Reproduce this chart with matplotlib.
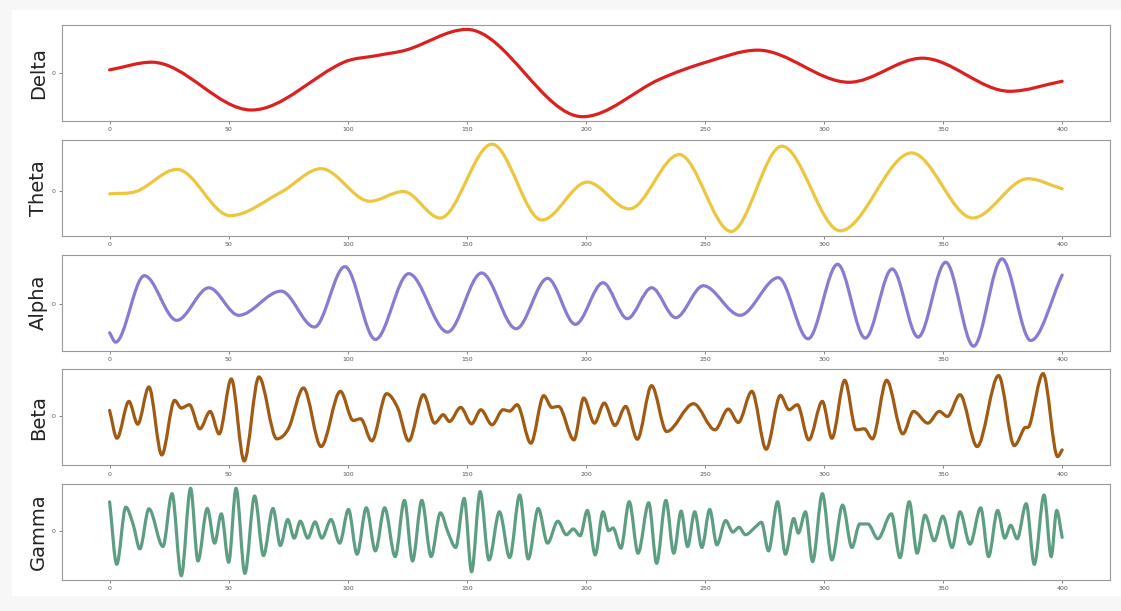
import matplotlib
matplotlib.use("Agg")
import matplotlib.pyplot as plt
import numpy as np
from matplotlib.path import Path
from matplotlib.patches import PathPatch, Rectangle

# turning points (sample index, amplitude) of each band-filtered trace
delta_x = [0, 17.7, 59.6, 98.4, 112.4, 124.8, 150, 198.6,
           231, 250.5, 272.2, 310.5, 341.3, 378, 400]
delta_y = [10, 33, -110, 33, 53, 70, 131, -130,
           -18, 33, 69, -27, 45, -54, -24]

theta_x = [0, 11.5, 28.3, 50.6, 72, 88.8, 109.3, 123.3, 138.8, 160.6, 181.5,
           200.6, 218.2, 239.2, 261, 282.3, 306.8, 336.8, 362.4, 385.6, 400]
theta_y = [-7, 1, 66, -72, -2, 68, -29, 0, -79, 141, -85,
           28, -52, 110, -119, 135, -117, 115, -79, 38, 8]

alpha_x = [0, 2.5, 14.6, 28.2, 41.7, 54.2, 72, 86, 98.8, 111.6, 125.6, 141.9,
           156.2, 170.7, 183.9, 195.6, 207.2, 217.4, 227.6, 237.7, 249.3, 264.7,
           280.8, 293.3, 305.7, 317.3, 328.6, 339.5, 351.1, 362.8, 374.7, 386.8, 400]
alpha_y = [-87, -115, 83, -50, 47, -35, 37, -70, 110, -107, 89, -85,
           91, -75, 75, -62, 62, -45, 47, -42, 53, -35,
           77, -105, 117, -103, 103, -100, 123, -127, 133, -110, 85]

beta_x = [0, 3.1, 8.1, 11.8, 16.5, 21.9, 27.3, 30.1, 33.5, 37.9, 42.2, 46,
          51.1, 56.5, 62.7, 70.2, 75.2, 81.4, 88.8, 96.9, 102.3, 105.4, 110.1,
          116.3, 121, 125.6, 131.8, 136.5, 140.1, 142.7, 147.4, 152, 155.9,
          160.6, 165.2, 168, 171.1, 176.9, 182.3, 185.7, 188.5, 195, 199.1,
          203.6, 207.7, 212.2, 216.7, 221.6, 227.6, 233.9, 245.2, 254.2, 259.8,
          264, 269.7, 275.7, 281.7, 285.3, 288.8, 293.6, 299.3, 303.3, 308.7,
          313.5, 316.9, 320.3, 326.3, 333.1, 337.6, 343.6, 348.4, 351.8, 357.1,
          364.3, 373.3, 379.9, 384.1, 386.4, 392, 398.1, 400]
beta_y = [18, -65, 45, -23, 88, -115, 48, 25, 35, -37, 15, -52,
          112, -133, 118, -67, -35, 85, -90, 75, -12, -7, -73,
          68, 25, -73, 65, -20, 5, -15, 27, -22, 20,
          -25, 20, 16, 35, -80, 62, 27, 30, -70, 55,
          -20, 40, -27, 30, -68, 92, -45, 38, -40, 22,
          -18, 75, -98, 63, 20, 35, -70, 45, -65, 108,
          -40, -37, -67, 108, -52, 15, -20, 15, 0, 65,
          -90, 122, -87, -35, -25, 128, -120, -100]

gamma_x = [0, 3, 6.8, 9.9, 12.7, 16.5, 22.4, 26.2, 30.1, 34, 37.1, 41, 44.1,
           46.9, 50, 53.1, 56.8, 60.9, 64.6, 68.6, 71.7, 74.8, 77.5, 80.1, 83.2,
           86.3, 89.1, 93, 96.6, 100.3, 103.9, 107.8, 111.6, 115.5, 119.9, 123.8,
           127.2, 131.1, 135, 138.9, 142.2, 145.3, 148.9, 152, 155.6, 159.3,
           163.7, 168, 172.2, 175.8, 180, 183.9, 188.2, 191.8, 194.7, 197.6,
           200.6, 203.9, 207.2, 209.6, 211.4, 214.7, 218.2, 221.9, 226.4, 229.7,
           233.6, 236.9, 240, 242.7, 245.7, 248.7, 252, 255, 258.7, 261.7, 264.3,
           267, 271.5, 273.7, 276.7, 280.5, 283.8, 287.3, 289.2, 292.2, 295.2,
           299.3, 303.3, 307.8, 311.7, 315, 318.4, 322.6, 328.3, 331.9, 335.8,
           339.1, 342.4, 346.3, 349.9, 353.8, 357.1, 361.3, 365.8, 369.1, 372.9,
           375.9, 378.4, 381.1, 384.9, 388.3, 392.4, 395.4, 397.7, 400]
gamma_y = [86, -100, 70, 18, -54, 65, -47, 110, -134, 126, -90, 66, -37,
           50, -94, 126, -127, 103, -74, 66, -44, 33, -22, 28, -22,
           26, -22, 33, -37, 63, -70, 68, -60, 68, -77, 90,
           -90, 90, -77, 53, -7, -50, 96, -122, 116, -87,
           56, -80, 106, -84, 66, -37, 28, -12, 5, -15,
           60, -72, 56, 0, 8, -52, 86, -67, 83, -97,
           90, -67, 58, -47, 56, -50, 63, -42, 30, -4, 10,
           -12, 13, 25, -60, 86, -70, 36, -7, 56, -92,
           110, -87, 76, -50, 20, 20, -24, 50, -80, 86,
           -67, 46, -30, 43, -50, 56, -40, 68, -77, 60,
           -22, 16, -24, 80, -100, 106, -77, 60, -20]

bands = ["Delta", "Theta", "Alpha", "Beta", "Gamma"]
colors = ["#dc1f1f", "#ecc63c", "#8a7bd2", "#a05a12", "#5d9e82"]
series = [(delta_x, delta_y), (theta_x, theta_y), (alpha_x, alpha_y),
          (beta_x, beta_y), (gamma_x, gamma_y)]


def smooth_path(xs, ys):
    """Cubic Bezier path through the turning points, flat at local extrema."""
    x = np.asarray(xs, float)
    y = np.asarray(ys, float) / 100.0
    n = len(x)
    m = np.zeros(n)
    for i in range(n):
        if i == 0:
            m[i] = (y[1] - y[0]) / (x[1] - x[0])
        elif i == n - 1:
            m[i] = (y[-1] - y[-2]) / (x[-1] - x[-2])
        elif (y[i] - y[i - 1]) * (y[i + 1] - y[i]) <= 0:
            m[i] = 0.0
        else:
            m[i] = (y[i + 1] - y[i - 1]) / (x[i + 1] - x[i - 1])
    verts = [(x[0], y[0])]
    codes = [Path.MOVETO]
    for i in range(n - 1):
        h = (x[i + 1] - x[i]) / 3.0
        verts += [(x[i] + h, y[i] + m[i] * h),
                  (x[i + 1] - h, y[i + 1] - m[i + 1] * h),
                  (x[i + 1], y[i + 1])]
        codes += [Path.CURVE4] * 3
    return Path(verts, codes)


fig, axes = plt.subplots(5, 1, figsize=(11.21, 6.11), dpi=100)
fig.patch.set_facecolor("#f7f7f7")
# white canvas behind the panels, leaving a thin grey margin
fig.patches.append(Rectangle((12 / 1121, 1 - 596 / 611), 1109 / 1121, 586 / 611,
                             transform=fig.transFigure, facecolor="white",
                             edgecolor="none", zorder=-10))
fig.subplots_adjust(left=0.0553, right=0.990, top=0.959, bottom=0.0507, hspace=0.195)

for ax, name, color, (xs, ys) in zip(axes, bands, colors, series):
    ax.add_patch(PathPatch(smooth_path(xs, ys), facecolor="none",
                           edgecolor=color, linewidth=2.3, capstyle="round"))
    ax.autoscale_view()
    ax.set_xlim(-20, 420)
    ax.set_yticks([0])
    ax.set_xticks(range(0, 401, 50))
    ax.tick_params(labelsize=4.5, length=2, width=0.5, pad=2.5,
                   colors="#555555")
    for sp in ax.spines.values():
        sp.set_color("#999999")
        sp.set_linewidth(0.8)
    ax.set_ylabel(name, fontsize=14, labelpad=3, color="#222222")

fig.savefig("out.png", dpi=100, facecolor=fig.get_facecolor())
